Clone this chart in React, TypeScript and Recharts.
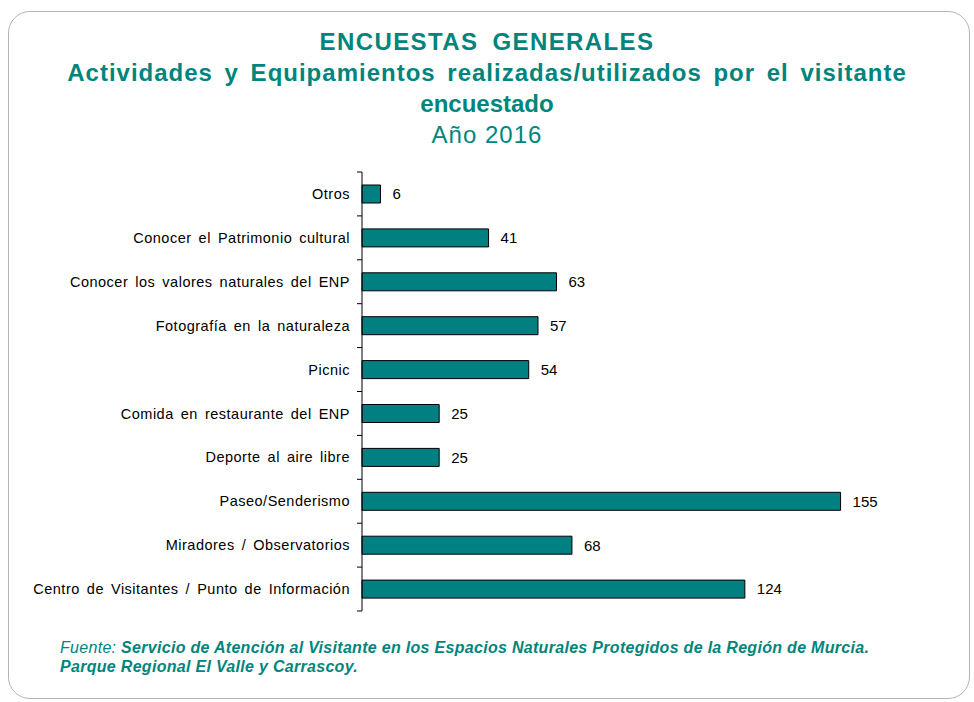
import { BarChart, Bar, XAxis, YAxis, LabelList } from "recharts";

const categories = [
    "Otros",
    "Conocer el Patrimonio cultural",
    "Conocer los valores naturales del ENP",
    "Fotografía en la naturaleza",
    "Picnic",
    "Comida en restaurante del ENP",
    "Deporte al aire libre",
    "Paseo/Senderismo",
    "Miradores / Observatorios",
    "Centro de Visitantes / Punto de Información",
];
const visitantes = [6, 41, 63, 57, 54, 25, 25, 155, 68, 124];

const data = categories.map((name, i) => ({ name, value: visitantes[i] }));

const TEAL = "#00857d";
const FONT = "'Liberation Sans', Arial, sans-serif";
const LABEL_GAP = 12;

// category label + Excel-style tick marks between the bands
function CategoryTick(props: any) {
    const { x, y, payload, index, height, visibleTicksCount } = props;
    const band = height && visibleTicksCount ? height / visibleTicksCount : 0;
    const axisX = x + LABEL_GAP;
    return (
        <g>
            <text
                x={x}
                y={y}
                dy="0.355em"
                textAnchor="end"
                fontSize={14.5}
                fill="#000"
                fontFamily={FONT}
                style={{ letterSpacing: 0.5, wordSpacing: 2.5 }}
            >
                {payload.value}
            </text>
            <line x1={axisX - 5} x2={axisX} y1={y - band / 2} y2={y - band / 2} stroke="#000" />
            {index === visibleTicksCount - 1 && (
                <line x1={axisX - 5} x2={axisX} y1={y + band / 2} y2={y + band / 2} stroke="#000" />
            )}
        </g>
    );
}

export default function App() {
    return (
        <div style={{ position: "absolute", left: 0, top: 0, width: 974, height: 702, background: "#fff", fontFamily: FONT, overflow: "hidden" }}>
            <div
                style={{
                    position: "absolute",
                    left: 8,
                    top: 11,
                    width: 962,
                    height: 688,
                    border: "1.5px solid #b4b4b4",
                    borderRadius: 22,
                    boxSizing: "border-box",
                }}
            />
            <div style={{ position: "absolute", left: 0, top: 26, width: 974, textAlign: "center", color: TEAL }}>
                <div style={{ fontSize: 24, fontWeight: "bold", lineHeight: "31px", letterSpacing: 1.4, wordSpacing: 6 }}>ENCUESTAS GENERALES</div>
                <div style={{ fontSize: 24, fontWeight: "bold", lineHeight: "31px", letterSpacing: 1.0, wordSpacing: 4 }}>
                    Actividades y Equipamientos realizadas/utilizados por el visitante
                </div>
                <div style={{ fontSize: 24, fontWeight: "bold", lineHeight: "31px" }}>encuestado</div>
                <div style={{ fontSize: 24, lineHeight: "31px", letterSpacing: 1 }}>Año 2016</div>
            </div>

            <div style={{ position: "absolute", left: 0, top: 0 }}>
                <BarChart
                    width={974}
                    height={640}
                    data={data}
                    layout="vertical"
                    margin={{ top: 172, right: 118, bottom: 29, left: 0 }}
                    barSize={18}
                >
                    <XAxis type="number" domain={[0, 160]} hide />
                    <YAxis
                        type="category"
                        dataKey="name"
                        width={362}
                        axisLine={{ stroke: "#000" }}
                        tickLine={false}
                        tickSize={0}
                        tickMargin={LABEL_GAP}
                        interval={0}
                        tick={<CategoryTick />}
                    />
                    <Bar dataKey="value" fill="#008080" stroke="#000" strokeWidth={1} isAnimationActive={false}>
                        <LabelList dataKey="value" position="right" offset={12} style={{ fontSize: 15, fill: "#000", fontFamily: FONT }} />
                    </Bar>
                </BarChart>
            </div>

            <div style={{ position: "absolute", left: 60, top: 638, color: TEAL, fontSize: 16, fontStyle: "italic", lineHeight: "19px", letterSpacing: 0.3 }}>
                <div>
                    Fuente: <b>Servicio de Atención al Visitante en los Espacios Naturales Protegidos de la Región de Murcia.</b>
                </div>
                <div>
                    <b>Parque Regional El Valle y Carrascoy.</b>
                </div>
            </div>
        </div>
    );
}
